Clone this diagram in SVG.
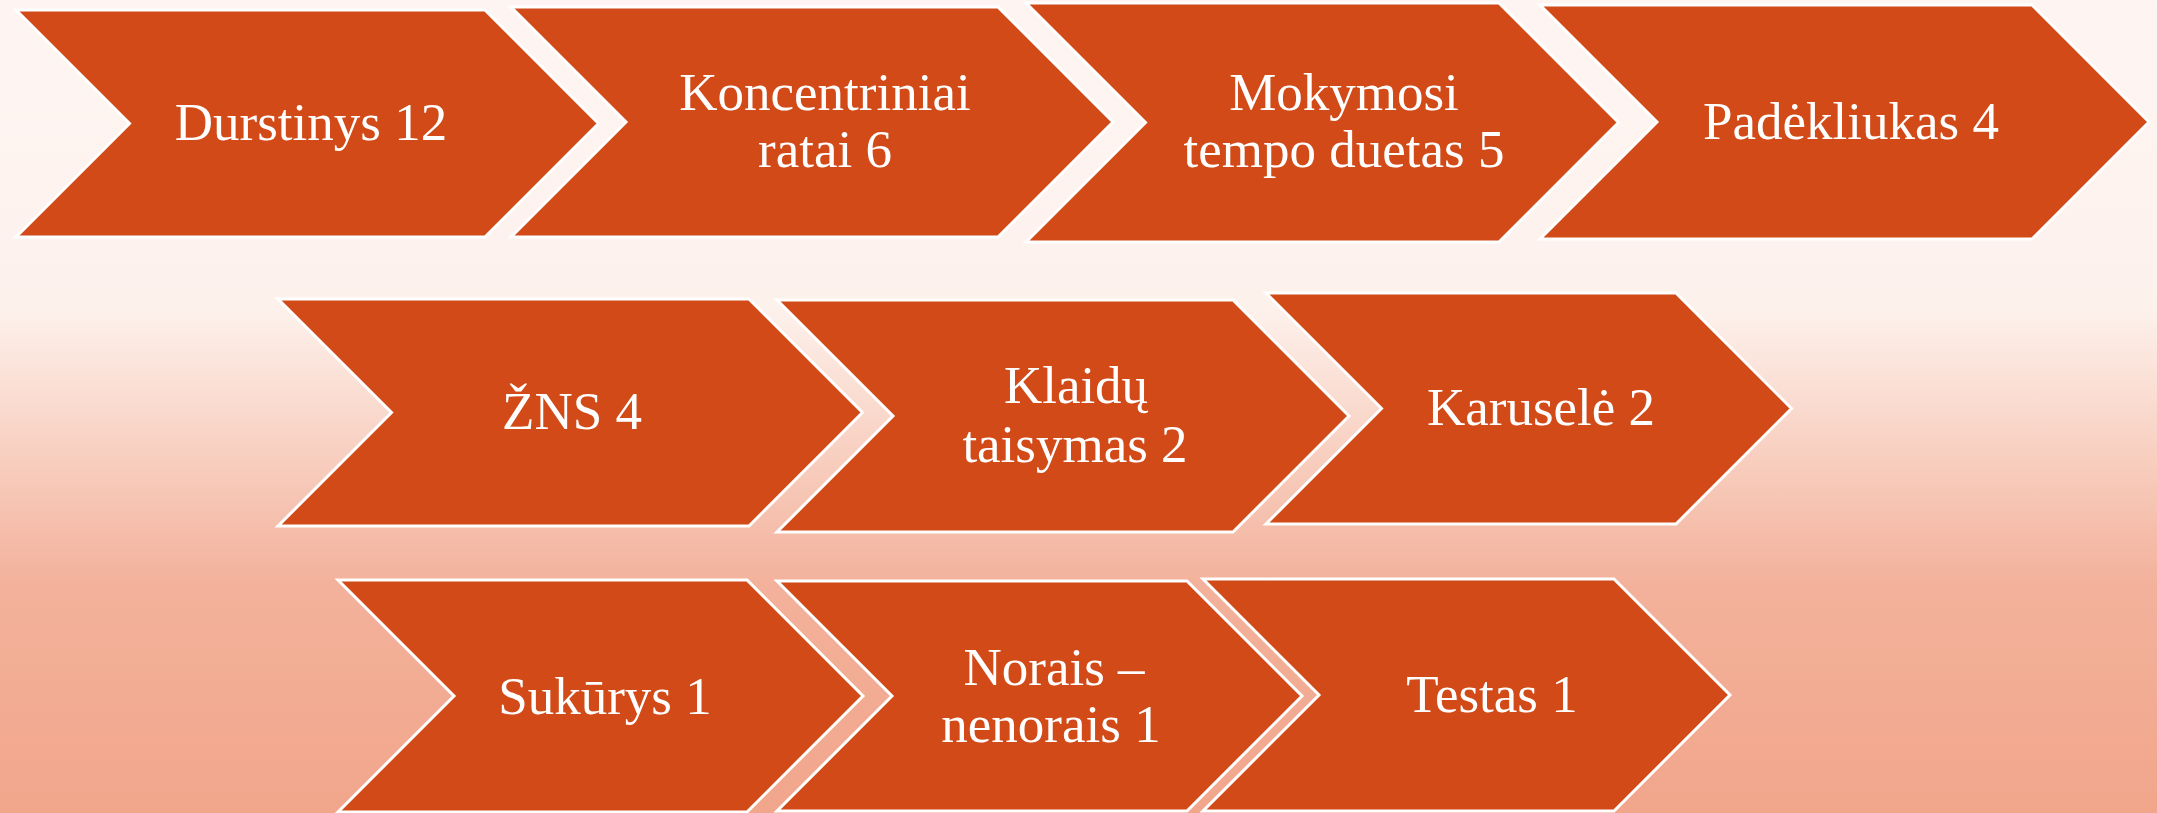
<svg xmlns="http://www.w3.org/2000/svg" width="2157" height="813" viewBox="0 0 2157 813">
  <defs>
    <linearGradient id="bg" x1="0" y1="0" x2="0" y2="1">
      <stop offset="0" stop-color="#FEF5F2"/>
      <stop offset="0.38" stop-color="#FDF1EC"/>
      <stop offset="0.56" stop-color="#F8CFC0"/>
      <stop offset="0.72" stop-color="#F3B19B"/>
      <stop offset="1" stop-color="#F1A68B"/>
    </linearGradient>
    <style>
      .chev { fill: #D14A17; stroke: #FFFFFF; stroke-width: 3; stroke-linejoin: miter; }
      .lbl { font-family: "Liberation Serif", "Times New Roman", serif; font-size: 53px; fill: #FFFFFF; text-anchor: middle; }
    </style>
  </defs>
  <rect x="0" y="0" width="2157" height="813" fill="url(#bg)"/>

  <g id="connectors"/>

  <g id="node-durstinys">
    <polygon class="chev" points="16,10 485,10 598.5,123.5 485,237 16,237 129.5,123.5"/>
    <text class="lbl" x="311" y="140">Durstinys 12</text>
  </g>
  <g id="node-koncentriniai">
    <polygon class="chev" points="511,7 998,7 1113,122 998,237 511,237 626,122"/>
    <text class="lbl" x="825" y="110">Koncentriniai</text>
    <text class="lbl" x="825" y="167">ratai 6</text>
  </g>
  <g id="node-mokymosi">
    <polygon class="chev" points="1026,3 1499,3 1618.5,122.5 1499,242 1026,242 1145.5,122.5"/>
    <text class="lbl" x="1344" y="110">Mokymosi</text>
    <text class="lbl" x="1344" y="167">tempo duetas 5</text>
  </g>
  <g id="node-padekliukas">
    <polygon class="chev" points="1540,5 2032,5 2149,122 2032,239 1540,239 1657,122"/>
    <text class="lbl" x="1851" y="139">Padėkliukas 4</text>
  </g>

  <g id="node-zns">
    <polygon class="chev" points="278,299 749,299 862.5,412.5 749,526 278,526 391.5,412.5"/>
    <text class="lbl" x="572" y="429">ŽNS 4</text>
  </g>
  <g id="node-klaidu">
    <polygon class="chev" points="777,300 1233,300 1349,416 1233,532 777,532 893,416"/>
    <text class="lbl" x="1076" y="403">Klaidų</text>
    <text class="lbl" x="1075" y="462">taisymas 2</text>
  </g>
  <g id="node-karusele">
    <polygon class="chev" points="1266,293 1676,293 1791.5,408.5 1676,524 1266,524 1381.5,408.5"/>
    <text class="lbl" x="1541" y="425">Karuselė 2</text>
  </g>

  <g id="node-sukurys">
    <polygon class="chev" points="338,580 747,580 863,696 747,812 338,812 454,696"/>
    <text class="lbl" x="605" y="714">Sukūrys 1</text>
  </g>
  <g id="node-norais">
    <polygon class="chev" points="777,581 1187,581 1302,696 1187,811 777,811 892,696"/>
    <text class="lbl" x="1054" y="685">Norais –</text>
    <text class="lbl" x="1051" y="742">nenorais 1</text>
  </g>
  <g id="node-testas">
    <polygon class="chev" points="1203,579 1614,579 1730,695 1614,811 1203,811 1319,695"/>
    <text class="lbl" x="1492" y="712">Testas 1</text>
  </g>
</svg>
